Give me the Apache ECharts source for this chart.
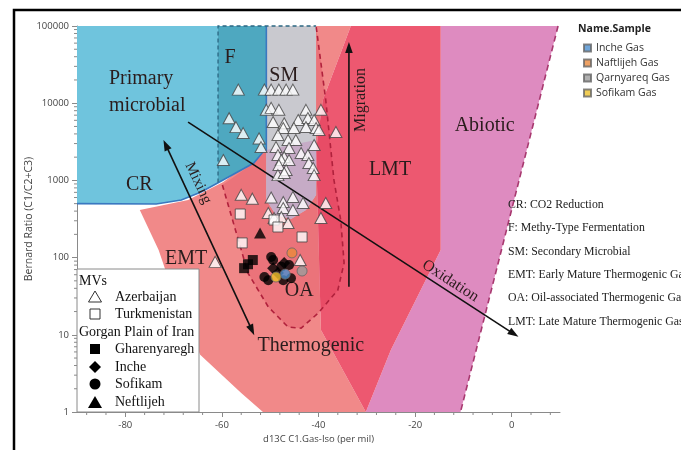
<!DOCTYPE html>
<html><head><meta charset="utf-8">
<script src="https://cdn.jsdelivr.net/npm/echarts@6/dist/echarts.min.js"></script>
<style>html,body{margin:0;padding:0;background:#fff}#c{width:681px;height:450px}</style>
</head><body><div id="c"></div>
<script>
// ---------------- data ----------------
const xTicks = [-80, -60, -40, -20, 0];
const yTicks = [1, 10, 100, 1000, 10000, 100000];

const azerbaijan = [
 [-56.6,15000],[-51.2,15000],[-49.8,15000],[-48.2,15000],[-46.7,15000],[-45.3,15000],
 [-50.8,8200],[-49.8,8700],[-48.2,8200],[-42.6,8200],[-39.5,8200],
 [-58.5,6400],[-57.1,4900],[-55.6,4100],[-52.3,3500],[-51.9,2700],[-59.7,1840],
 [-49.4,5700],[-47.1,5500],[-44.2,6060],[-42.2,6430],[-40.9,6060],
 [-47.3,4770],[-45.1,4770],[-42.6,4920],[-40.5,4770],[-39.9,4500],[-36.4,4240],
 [-48.4,3870],[-46.3,3340],[-44.7,3340],[-48.8,2710],[-40.9,2870],
 [-46.1,2630],[-43.6,2260],[-42.2,2130],[-48.4,2130],[-47.1,2010],[-42.0,1680],
 [-47.7,1840],[-46.1,1840],[-48.2,1580],[-46.7,1360],[-41.1,1450],
 [-48.4,1170],[-47.1,1250],[-40.9,1170],
 [-56.0,650],[-53.7,580],[-49.8,600],[-47.3,525],[-45.3,610],[-43.2,510],[-38.5,510],
 [-47.3,439],[-45.3,414],[-50.4,378],[-49.2,326],[-47.7,336],[-46.3,281],[-39.5,326],
 [-43.8,93],[-61.4,88]
];
const turkmenistan = [[-56.2,367],[-49.2,307],[-48.4,249],[-43.4,185],[-55.8,155]];
const gharenyaregh = [[-55.4,73],[-53.6,93],[-54.6,82]];
const incheMV = [[-49.4,73],[-47.1,85],[-48.4,63]];
const sofikamMV = [[-49.8,102],[-46.1,80],[-51.2,56],[-50.4,51],[-47.3,51],[-45.7,54],[-49.4,93],[-47.7,76]];
const neftlijehMV = [[-52.1,208]];

const incheGas = [[-46.9,61]];
const naftlijehGas = [[-45.5,115]];
const qarnyareqGas = [[-43.4,67]];
const sofikamGas = [[-48.8,56]];

// genetic zones of the template diagram (data units)
const zoneCR = [[-90,100000],[-50.8,100000],[-50.8,2480],[-51.5,2330],[-53.4,1680],[-60.5,953],[-64.3,708],[-68.4,557],[-73.6,495],[-90,500]];
const zoneF = [[-60.8,100000],[-50.8,100000],[-50.8,2480],[-51.5,2330],[-53.4,1680],[-60.5,953],[-60.8,940]];
const zoneSM = [[-50.8,100000],[-40.5,100000],[-40.5,647],[-42.6,414],[-45.7,316],[-48.8,356],[-50.8,557]];
const zoneSMOA = [[-50.8,2480],[-40.5,3340],[-40.5,647],[-42.6,414],[-45.7,316],[-48.8,356],[-50.8,557]];
const zoneEMT = [[-77.0,414],[-67.0,557],[-59.7,953],[-50.8,2480],[-43.6,100000],[-33.3,100000],[-39.1,11000],[-40.5,2480],[-39.5,11.5],[-30.2,1],[-51.5,1],[-56.0,1.76],[-64.5,5.5],[-68.4,21],[-71.8,72],[-73.1,125]];
const zoneLMT = [[-33.3,100000],[-14.7,100000],[-14.7,125],[-25.0,6.4],[-30.2,1],[-39.5,11.5],[-40.5,2480],[-39.1,11000]];
const zoneAbiotic = [[-14.7,100000],[9.6,100000],[-10.6,1],[-30.2,1],[-25.0,6.4],[-14.7,125]];
const zoneOA = [[-59.9,872],[-54.6,63],[-50.4,23],[-46.3,12.6],[-43.6,12.2],[-40.1,19],[-36.0,38],[-34.7,85],[-35.4,307],[-36.8,1010],[-38.5,11000],[-40.5,100000],[-50.8,100000],[-50.8,2480],[-53.4,1680]];
const lineCR = [[-90,500],[-73.6,495],[-68.4,557],[-64.3,708],[-60.5,953],[-53.4,1680],[-51.5,2330],[-50.8,2480],[-50.8,100000]];
const lineF = [[-60.8,940],[-60.8,100000],[-40.5,100000]];
const lineOA = zoneOA.slice(0, 12);
const lineAbiotic = [[9.6,100000],[-10.6,1]];

const arrowMixing = [[-72.1,3340],[-53.3,9.9]];
const arrowOxidation = [[-67.0,5700],[1.4,9.4]];
const arrowMigration = [[-33.7,42],[-33.7,62000]];

const zoneLabels = [
 {text:'Primary', at:[-83.4,20600], align:'left'},
 {text:'microbial', at:[-83.4,9200], align:'left'},
 {text:'CR', at:[-77.1,872]},
 {text:'F', at:[-58.3,38500]},
 {text:'SM', at:[-47.2,22500]},
 {text:'LMT', at:[-25.2,1360]},
 {text:'Abiotic', at:[-5.6,5070]},
 {text:'EMT', at:[-67.4,96]},
 {text:'OA', at:[-44.0,36.9]},
 {text:'Thermogenic', at:[-41.6,7.2]}
];
const processLabels = [
 {text:'Mixing', at:[-64.9,925], arrow:arrowMixing, size:15},
 {text:'Oxidation', at:[-12.7,49.8], arrow:arrowOxidation, size:16},
 {text:'Migration', at:[-31.2,11000], arrow:arrowMigration, size:16}
];
const notes = ['CR: CO2 Reduction','F: Methy-Type Fermentation','SM: Secondary Microbial',
 'EMT: Early Mature Thermogenic Gas','OA: Oil-associated Thermogenic Gas','LMT: Late Mature Thermogenic Gas'];

// ---------------- rendering ----------------
const SERIF = "'Liberation Serif','Times New Roman',serif";
const SANS = "'Open Sans','Noto Sans',sans-serif";
const chart = echarts.init(document.getElementById('c'), null, {renderer:'canvas'});

function shapeSeries(pts, style, z, kind) {
  return {type:'custom', silent:true, z, clip:false, data:[[-50,10]],
    renderItem:(p, api) => ({type: kind || 'polygon', shape:{points: pts.map(q => api.coord(q))}, style})};
}
function arrowEls(api, a, b, both) {
  const p = api.coord(a), q = api.coord(b);
  const dx = q[0]-p[0], dy = q[1]-p[1], L = Math.hypot(dx, dy), ux = dx/L, uy = dy/L;
  const len = 11, w = 3.8;
  const head = (tip, sx, sy) => {
    const bx = tip[0] - sx*len, by = tip[1] - sy*len;
    return {type:'polygon', shape:{points:[[tip[0],tip[1]],[bx - sy*w, by + sx*w],[bx + sy*w, by - sx*w]]}, style:{fill:'#111'}};
  };
  const s = both ? [p[0]+ux*len*0.8, p[1]+uy*len*0.8] : p;
  const e = [q[0]-ux*len*0.8, q[1]-uy*len*0.8];
  const els = [{type:'line', shape:{x1:s[0],y1:s[1],x2:e[0],y2:e[1]}, style:{stroke:'#111', lineWidth:1.6}}, head(q, ux, uy)];
  if (both) els.push(head(p, -ux, -uy));
  return els;
}
const xMinor = [-88,-84,-76,-72,-68,-64,-56,-52,-48,-44,-36,-32,-28,-24,-16,-12,-8,-4,4,8];
const yMinor = [];
for (let k = 0; k < 5; k++) for (let m = 2; m <= 9; m++) yMinor.push(m * Math.pow(10, k));

const series = [
  shapeSeries(zoneCR, {fill:'#6fc4dd'}, 1),
  shapeSeries(zoneEMT, {fill:'#f18989'}, 2),
  shapeSeries(zoneAbiotic, {fill:'#de8bc0'}, 2),
  shapeSeries(zoneLMT, {fill:'#ed5870'}, 3),
  shapeSeries(zoneOA, {fill:'rgba(214,38,70,0.22)'}, 4),
  shapeSeries(zoneF, {fill:'#4ea8c0'}, 5),
  shapeSeries(zoneSM, {fill:'#c9c9cf'}, 5),
  shapeSeries(zoneSMOA, {fill:'#c6abc6'}, 6),
  shapeSeries(lineCR, {stroke:'#3a78c0', lineWidth:1.6, fill:null}, 7, 'polyline'),
  shapeSeries(lineF, {stroke:'#2c6782', lineWidth:1.3, lineDash:[4,3], fill:null}, 7, 'polyline'),
  shapeSeries(lineOA, {stroke:'#b0213c', lineWidth:1.6, lineDash:[5,4], fill:null}, 7, 'polyline'),
  shapeSeries(lineAbiotic, {stroke:'#a8386f', lineWidth:1.6, lineDash:[6,4], fill:null}, 7, 'polyline'),
  {type:'custom', silent:true, z:8, clip:false, data:[[-50,10]],
   renderItem:(p, api) => ({type:'group', children:[
     ...arrowEls(api, arrowMixing[0], arrowMixing[1], true),
     ...arrowEls(api, arrowOxidation[0], arrowOxidation[1], false),
     ...arrowEls(api, arrowMigration[0], arrowMigration[1], false)
   ]})},
  {type:'custom', silent:true, z:9, clip:false, data:[[-50,10]],
   renderItem:(p, api) => {
     const ch = zoneLabels.map(l => {
       const c = api.coord(l.at);
       return {type:'text', x:c[0], y:c[1], style:{text:l.text, font:"20px " + SERIF, fill:'#2a1c1c',
         align:l.align || 'center', verticalAlign:'middle', textAlign:l.align || 'center', textVerticalAlign:'middle'}};
     });
     processLabels.forEach(l => {
       const c = api.coord(l.at), a = api.coord(l.arrow[0]), b = api.coord(l.arrow[1]);
       let ang = Math.atan2(b[1]-a[1], b[0]-a[0]);
       if (ang < -Math.PI/2 || ang > Math.PI/2) ang += Math.PI;
       ch.push({type:'text', x:c[0], y:c[1], rotation:-ang, style:{text:l.text, font:l.size + "px " + SERIF, fill:'#2a1c1c',
         align:'center', verticalAlign:'middle', textAlign:'center', textVerticalAlign:'middle'}});
     });
     return {type:'group', children:ch};
   }},
  {type:'custom', silent:true, z:2, clip:false, data:[[-50,10]],
   renderItem:(p, api) => {
     const ch = [];
     xMinor.forEach(v => { const c = api.coord([v, 1]); ch.push({type:'line', shape:{x1:c[0],y1:c[1],x2:c[0],y2:c[1]+3}, style:{stroke:'#8a8a8a', lineWidth:1}}); });
     yMinor.forEach(v => { const c = api.coord([-90, v]); ch.push({type:'line', shape:{x1:c[0]-3,y1:c[1],x2:c[0],y2:c[1]}, style:{stroke:'#8a8a8a', lineWidth:1}}); });
     return {type:'group', children:ch};
   }},
  {type:'scatter', name:'Azerbaijan', data:azerbaijan, symbol:'triangle', symbolSize:[12,11], z:10,
   itemStyle:{color:'#ffffff', borderColor:'#444', borderWidth:1}},
  {type:'scatter', name:'Turkmenistan', data:turkmenistan, symbol:'rect', symbolSize:10, z:10,
   itemStyle:{color:'#ffffff', borderColor:'#444', borderWidth:1}},
  {type:'scatter', name:'Gharenyaregh', data:gharenyaregh, symbol:'rect', symbolSize:10, z:10, itemStyle:{color:'#000'}},
  {type:'scatter', name:'Inche', data:incheMV, symbol:'diamond', symbolSize:12, z:10, itemStyle:{color:'#000'}},
  {type:'scatter', name:'Sofikam', data:sofikamMV, symbol:'circle', symbolSize:10, z:10, itemStyle:{color:'#000'}},
  {type:'scatter', name:'Neftlijeh', data:neftlijehMV, symbol:'triangle', symbolSize:[12,11], z:10, itemStyle:{color:'#000'}},
  {type:'scatter', name:'Inche Gas', data:incheGas, symbolSize:10, z:11, itemStyle:{color:'#4b8fd0', borderColor:'#666', borderWidth:1}},
  {type:'scatter', name:'Naftlijeh Gas', data:naftlijehGas, symbolSize:10, z:11, itemStyle:{color:'#ea8a3c', borderColor:'#666', borderWidth:1}},
  {type:'scatter', name:'Qarnyareq Gas', data:qarnyareqGas, symbolSize:10, z:11, itemStyle:{color:'#9c9c9c', borderColor:'#666', borderWidth:1}},
  {type:'scatter', name:'Sofikam Gas', data:sofikamGas, symbolSize:10, z:11, itemStyle:{color:'#eec12a', borderColor:'#666', borderWidth:1}}
];

// legend box (MVs / Gorgan Plain) drawn as graphic
const LB = {x:77, y:269, w:122, h:143};
const lbText = (t, x, y) => ({type:'text', x, y, z:100, style:{text:t, font:"14px " + SERIF, fill:'#111', align:'left', verticalAlign:'middle', textAlign:'left', textVerticalAlign:'middle'}});
const graphics = [
  {type:'polyline', z:200, shape:{points:[[14,455],[14,10],[690,10]]}, style:{stroke:'#000', lineWidth:2.5, fill:null}},
  {type:'rect', z:99, shape:{x:LB.x, y:LB.y, width:LB.w, height:LB.h}, style:{fill:'#fff', stroke:'#8a8a8a', lineWidth:1}},
  lbText('MVs', 79, 281),
  {type:'polygon', z:100, shape:{points:[[95,291],[101.5,302],[88.5,302]]}, style:{fill:'#fff', stroke:'#333', lineWidth:1}},
  lbText('Azerbaijan', 115, 297),
  {type:'rect', z:100, shape:{x:90, y:309, width:10, height:10}, style:{fill:'#fff', stroke:'#333', lineWidth:1}},
  lbText('Turkmenistan', 115, 314),
  lbText('Gorgan Plain of Iran', 79, 332),
  {type:'rect', z:100, shape:{x:90, y:344, width:10, height:10}, style:{fill:'#000'}},
  lbText('Gharenyaregh', 115, 349),
  {type:'polygon', z:100, shape:{points:[[95,361],[101,367],[95,373],[89,367]]}, style:{fill:'#000'}},
  lbText('Inche', 115, 367),
  {type:'circle', z:100, shape:{cx:95, cy:384, r:5.5}, style:{fill:'#000'}},
  lbText('Sofikam', 115, 384),
  {type:'polygon', z:100, shape:{points:[[95,396],[102,408],[88,408]]}, style:{fill:'#000'}},
  lbText('Neftlijeh', 115, 402),
  {type:'text', x:578, y:29, z:100, style:{text:'Name.Sample', font:"bold 10.5px " + SANS, fill:'#222', align:'left', verticalAlign:'middle', textAlign:'left', textVerticalAlign:'middle'}}
];
const noteY = [205, 228, 252, 275, 298, 322];
notes.forEach((t, i) => graphics.push({type:'text', x:508, y:noteY[i], z:100,
  style:{text:t, font:"11.8px " + SERIF, fill:'#222', align:'left', verticalAlign:'middle', textAlign:'left', textVerticalAlign:'middle'}}));

const axisFont = {fontFamily:SANS, fontSize:9.5, color:'#444'};
chart.setOption({
  animation:false,
  backgroundColor:'#fff',
  grid:{left:77, right:121, top:26, bottom:38, containLabel:false},
  xAxis:{type:'value', min:-90, max:10, interval:10,
    name:'d13C C1.Gas-Iso (per mil)', nameLocation:'middle', nameGap:22, nameTextStyle:axisFont, nameMoveOverlap:false,
    axisLine:{show:true, onZero:false, lineStyle:{color:'#8a8a8a', width:1}},
    axisTick:{show:true, customValues:xTicks, length:5, lineStyle:{color:'#8a8a8a'}},
    axisLabel:Object.assign({customValues:xTicks, margin:8, formatter:v => (v % 20 === 0 ? String(v) : '')}, axisFont),
    splitLine:{show:false}},
  yAxis:{type:'log', logBase:10, min:1, max:100000,
    name:'Bernard Ratio (C1/C2+C3)', nameLocation:'middle', nameGap:42, nameMoveOverlap:false,
    nameTextStyle:{fontFamily:SANS, fontSize:10.5, color:'#444'},
    axisLine:{show:true, onZero:false, lineStyle:{color:'#8a8a8a', width:1}},
    axisTick:{show:true, length:5, lineStyle:{color:'#8a8a8a'}},
    axisLabel:Object.assign({margin:8, formatter:v => String(Math.round(v))}, axisFont),
    splitLine:{show:false}},
  legend:{data:['Inche Gas','Naftlijeh Gas','Qarnyareq Gas','Sofikam Gas'], orient:'vertical', left:578, top:37,
    itemWidth:7, itemHeight:7, itemGap:3, icon:'rect', selectedMode:false,
    textStyle:{fontFamily:SANS, fontSize:10.5, color:'#333', lineHeight:12}},
  graphic:graphics,
  series
});
</script>
</body></html>
